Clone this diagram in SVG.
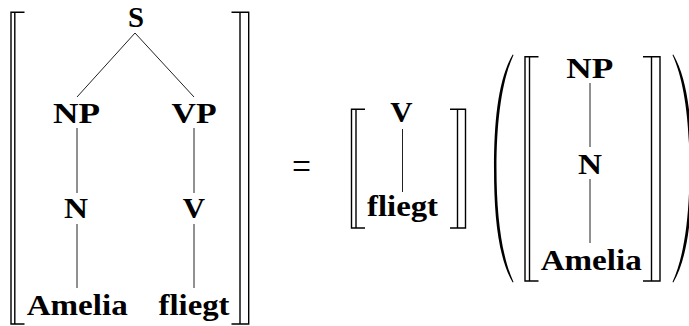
<svg xmlns="http://www.w3.org/2000/svg" width="689" height="326" viewBox="0 0 689 326">
<style>
.t{font-family:"Liberation Serif","Times New Roman",serif;font-weight:bold;font-size:29.5px;fill:#000;text-anchor:middle}
.eq{font-family:"Liberation Serif","Times New Roman",serif;font-size:40px;fill:#000;text-anchor:middle}
.br{fill:none;stroke:#000;stroke-width:1.4}
.ln{fill:none;stroke:#222;stroke-width:1}
.par{fill:#000;stroke:none}
</style>
<rect width="689" height="326" fill="#fff"/>
<g id="brackets">
  <path class="br" d="M24.5,12.3 H11 V324 H24.5 M14.8,12.3 V324"/>
  <path class="br" d="M231.5,12.3 H248.7 V324 H231.5 M240,12.3 V324"/>
  <path class="br" d="M365,109.3 H351.5 V228 H365 M356,109.3 V228"/>
  <path class="br" d="M450,109.3 H465.5 V228 H450 M457.5,109.3 V228"/>
  <path class="br" d="M538.5,56.7 H525 V281 H538.5 M529.5,56.7 V281"/>
  <path class="br" d="M643,56.7 H660 V281 H643 M651.5,56.7 V281"/>
  <path class="par" d="M513.5,55 C502,80 496.5,120 496.5,168.5 C496.5,217 502,257 513.5,282 L512.7,282.6 C498.5,258 494,218 494,168.5 C494,119 498.5,79 512.7,54.4 Z"/>
  <path class="par" d="M672.5,55 C684,80 689.5,120 689.5,168.5 C689.5,217 684,257 672.5,282 L673.3,282.6 C687.5,258 692,218 692,168.5 C692,119 687.5,79 673.3,54.4 Z"/>
</g>
<g id="connectors">
  <line class="ln" x1="135" y1="33" x2="77" y2="97"/>
  <line class="ln" x1="135" y1="33" x2="194" y2="97"/>
  <line class="ln" x1="77" y1="128" x2="77" y2="193"/>
  <line class="ln" x1="77" y1="224" x2="77" y2="288"/>
  <line class="ln" x1="194" y1="128" x2="194" y2="193"/>
  <line class="ln" x1="194" y1="224" x2="194" y2="288"/>
  <line class="ln" x1="402.5" y1="129" x2="402.5" y2="192"/>
  <line class="ln" x1="590" y1="83" x2="590" y2="147"/>
  <line class="ln" x1="590" y1="179" x2="590" y2="243"/>
</g>
<g id="n-S"><text class="t" x="136" y="26.8" textLength="16" lengthAdjust="spacingAndGlyphs">S</text></g>
<g id="n-NP"><text class="t" x="76.5" y="123" textLength="47" lengthAdjust="spacingAndGlyphs">NP</text></g>
<g id="n-VP"><text class="t" x="194" y="123" textLength="45" lengthAdjust="spacingAndGlyphs">VP</text></g>
<g id="n-N"><text class="t" x="76" y="218" textLength="24" lengthAdjust="spacingAndGlyphs">N</text></g>
<g id="n-V"><text class="t" x="194" y="218" textLength="22.3" lengthAdjust="spacingAndGlyphs">V</text></g>
<g id="n-Amelia"><text class="t" x="77.2" y="315" textLength="101" lengthAdjust="spacingAndGlyphs">Amelia</text></g>
<g id="n-fliegt"><text class="t" x="194" y="315" textLength="71" lengthAdjust="spacingAndGlyphs">fliegt</text></g>
<g id="eq"><text class="eq" x="301.5" y="179.5" textLength="19" lengthAdjust="spacingAndGlyphs">=</text></g>
<g id="n-V2"><text class="t" x="401.3" y="121.7" textLength="22.3" lengthAdjust="spacingAndGlyphs">V</text></g>
<g id="n-fliegt2"><text class="t" x="402.5" y="216" textLength="71" lengthAdjust="spacingAndGlyphs">fliegt</text></g>
<g id="n-NP2"><text class="t" x="589.7" y="78.3" textLength="47" lengthAdjust="spacingAndGlyphs">NP</text></g>
<g id="n-N2"><text class="t" x="590" y="174" textLength="24" lengthAdjust="spacingAndGlyphs">N</text></g>
<g id="n-Amelia2"><text class="t" x="591.2" y="270" textLength="101" lengthAdjust="spacingAndGlyphs">Amelia</text></g>
</svg>
